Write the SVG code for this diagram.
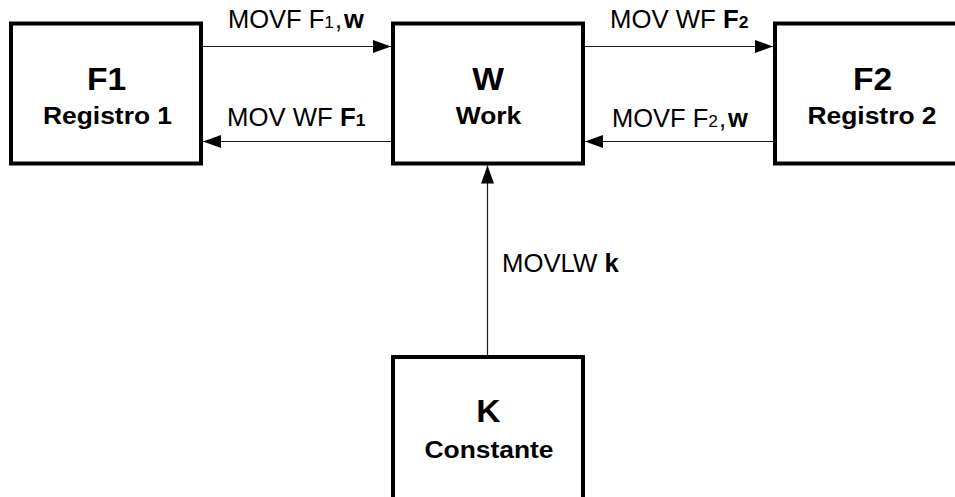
<svg xmlns="http://www.w3.org/2000/svg" width="955" height="497" viewBox="0 0 955 497">
  <style>
    .box { fill: #ffffff; stroke: #000000; stroke-width: 4; }
    .wire { stroke: #1a1a1a; stroke-width: 1.2; fill: none; marker-end: url(#head); }
    .title { font-family: "Liberation Sans", Arial, sans-serif; font-weight: bold; font-size: 32px; fill: #000; text-anchor: middle; }
    .sub { font-family: "Liberation Sans", Arial, sans-serif; font-weight: bold; font-size: 24px; fill: #000; text-anchor: middle; }
    .lbl { font-family: "Liberation Sans", Arial, sans-serif; font-size: 25px; fill: #000; }
    .b { font-weight: bold; }
    .sm { font-size: 17px; }
  </style>
  <defs>
    <marker id="head" markerUnits="userSpaceOnUse" markerWidth="18" markerHeight="13" refX="18" refY="6.5" orient="auto">
      <path d="M0,0 L18,6.5 L0,13 Z" fill="#000000"/>
    </marker>
  </defs>
  <rect width="955" height="497" fill="#ffffff"/>

  <!-- connectors and their labels -->
  <g id="connectors">
    <line class="wire" x1="203" y1="46.5" x2="391" y2="46.5"/>
    <line class="wire" x1="391" y1="141.5" x2="203" y2="141.5"/>
    <line class="wire" x1="585" y1="46.5" x2="773" y2="46.5"/>
    <line class="wire" x1="773" y1="141.5" x2="585" y2="141.5"/>
    <line class="wire" x1="487.5" y1="355" x2="487.5" y2="165.5"/>

    <text class="lbl" transform="translate(228,27.5) scale(1.02,1)">MOVF F<tspan class="sm">1</tspan><tspan dx="1">,</tspan><tspan class="b" dx="2">w</tspan></text>
    <text class="lbl" transform="translate(227,126) scale(1.03,1)">MOV WF <tspan class="b">F</tspan><tspan class="b sm">1</tspan></text>
    <text class="lbl" transform="translate(610,28) scale(1.03,1)">MOV WF <tspan class="b">F</tspan><tspan class="b sm">2</tspan></text>
    <text class="lbl" transform="translate(612,126.5) scale(1.02,1)">MOVF F<tspan class="sm">2</tspan><tspan dx="1">,</tspan><tspan class="b" dx="2">w</tspan></text>
    <text class="lbl" transform="translate(502,271.5) scale(1.03,1)">MOVLW <tspan class="b">k</tspan></text>
  </g>

  <g id="node-f1">
    <rect class="box" x="11" y="23.5" width="190" height="140"/>
    <text class="title" transform="translate(106.5,90) scale(1.05,1)">F1</text>
    <text class="sub" transform="translate(107.5,124) scale(1.1,1)">Registro 1</text>
  </g>

  <g id="node-w">
    <rect class="box" x="393" y="23.5" width="190" height="140"/>
    <text class="title" transform="translate(488,90) scale(1.05,1)">W</text>
    <text class="sub" transform="translate(488.5,124) scale(1.1,1)">Work</text>
  </g>

  <g id="node-f2">
    <rect class="box" x="775" y="23.5" width="190" height="140"/>
    <text class="title" transform="translate(872.5,90) scale(1.05,1)">F2</text>
    <text class="sub" transform="translate(872,124) scale(1.1,1)">Registro 2</text>
  </g>

  <g id="node-k">
    <rect class="box" x="393" y="357" width="190" height="150"/>
    <text class="title" transform="translate(488.5,422) scale(1.05,1)">K</text>
    <text class="sub" transform="translate(489,458) scale(1.1,1)">Constante</text>
  </g>
</svg>
